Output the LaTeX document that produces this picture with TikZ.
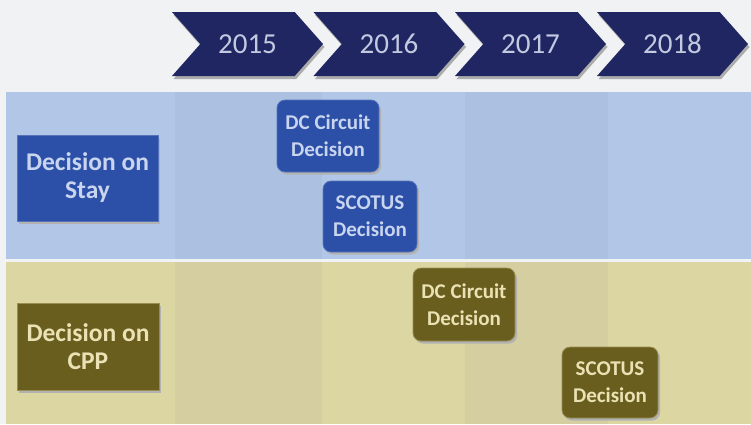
\documentclass[tikz,border=0pt]{standalone}
\usepackage{fontspec}
\setmainfont{Carlito}
\usetikzlibrary{shapes.symbols,shadows}

\definecolor{paper}{HTML}{F1F2F3}
\definecolor{navy}{HTML}{1F2662}
\definecolor{yeartext}{HTML}{C3C9E1}
\definecolor{stayband}{HTML}{B2C7E7}
\definecolor{staybanddark}{HTML}{ACC1E2}
\definecolor{cppband}{HTML}{DCD6A2}
\definecolor{cppbanddark}{HTML}{D5CEA1}
\definecolor{staybox}{HTML}{2C4FA8}
\definecolor{staytext}{HTML}{C9D5EE}
\definecolor{cppbox}{HTML}{6A5E1F}
\definecolor{cpptext}{HTML}{EAE2B4}

\begin{document}
\begin{tikzpicture}[x=1pt, y=-1pt,
    yearbox/.style={signal, signal from=west, signal to=east, signal pointer angle=97,
        fill=navy, text=yeartext, minimum width=151pt, minimum height=64pt, inner sep=0pt,
        font=\fontsize{29}{31}\selectfont,
        drop shadow={shadow xshift=1.5pt, shadow yshift=-3pt, fill=gray!65, opacity=1}},
    rowlabel/.style={align=center, inner sep=0pt, font=\bfseries\fontsize{25.5}{28}\selectfont,
        drop shadow={shadow xshift=2pt, shadow yshift=-2.5pt, fill=gray!60, opacity=1}},
    decision/.style={rowlabel, rounded corners=8pt, font=\bfseries\fontsize{21}{27}\selectfont},
    stay/.style={fill=staybox, text=staytext, draw=staybox!80!white, line width=0.8pt},
    cpp/.style={fill=cppbox, text=cpptext, draw=cppbox!60!cppband, line width=0.8pt}]

    \useasboundingbox (0,0) rectangle (751,424);
    \fill[paper] (0,0) rectangle (751,424);

    % the two bands, with every other year column a bit darker
    \fill[stayband] (6,92) rectangle (751,259);
    \fill[staybanddark] (175,92) rectangle (322,259);
    \fill[staybanddark] (465,92) rectangle (608,259);
    \fill[cppband] (6,262) rectangle (751,424);
    \fill[cppbanddark] (175,262) rectangle (322,424);
    \fill[cppbanddark] (465,262) rectangle (608,424);

    % time line
    \node[yearbox] (y2015) at (247.5,44) {2015};
    \node[yearbox] (y2016) at (389,44) {2016};
    \node[yearbox] (y2017) at (530.5,44) {2017};
    \node[yearbox] (y2018) at (672.5,44) {2018};

    % stay
    \node[rowlabel, stay, minimum width=141pt, minimum height=86pt] (staylabel) at (87.5,178) {Decision on\\Stay};
    \node[decision, stay, minimum width=102pt, minimum height=72pt] (staydc) at (328,136) {DC Circuit\\Decision};
    \node[decision, stay, minimum width=94pt, minimum height=71pt] (stayscotus) at (370,216.5) {SCOTUS\\Decision};

    % CPP
    \node[rowlabel, cpp, minimum width=142pt, minimum height=87pt] (cpplabel) at (88,346.5) {Decision on\\CPP};
    \node[decision, cpp, minimum width=102pt, minimum height=73pt] (cppdc) at (464,304.5) {DC Circuit\\Decision};
    \node[decision, cpp, minimum width=96pt, minimum height=71pt] (cppscotus) at (610,382.5) {SCOTUS\\Decision};

\end{tikzpicture}
\end{document}
